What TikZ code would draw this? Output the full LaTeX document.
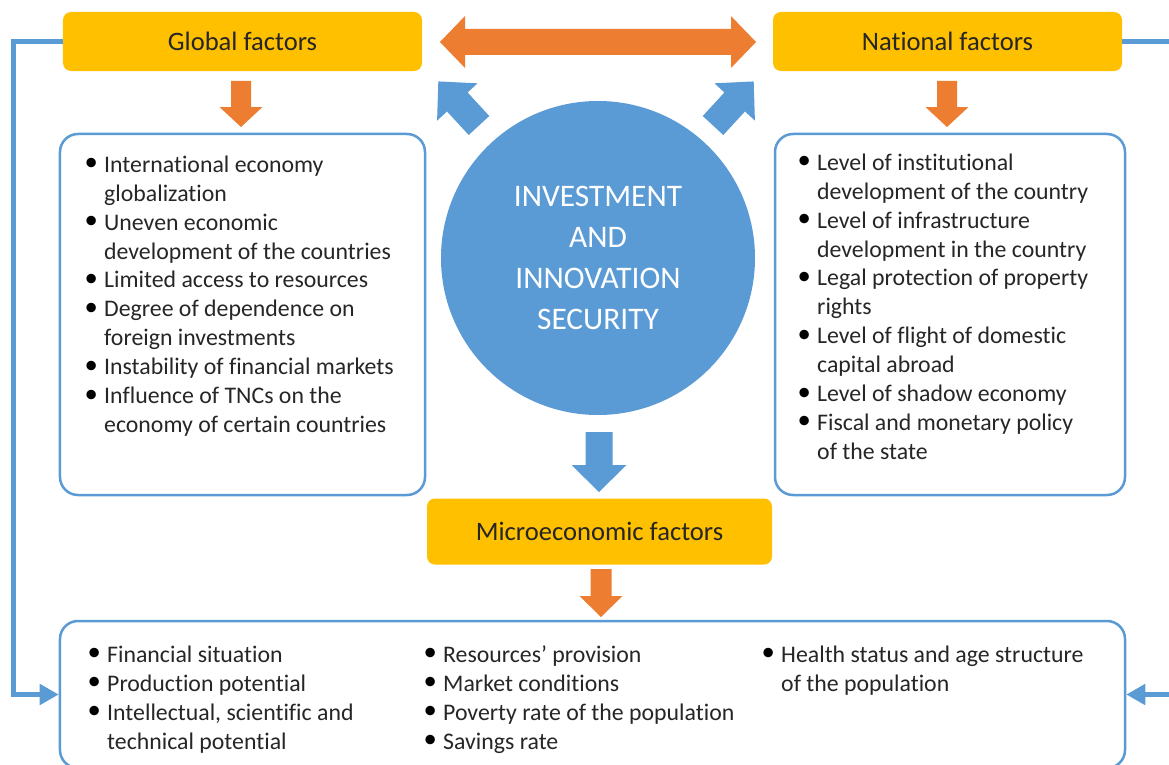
\documentclass[tikz,border=0pt]{standalone}
\usepackage{fontspec}
\setmainfont{Carlito}[Ligatures=NoCommon]
\usetikzlibrary{arrows.meta}
\definecolor{gold}{HTML}{FFC000}
\definecolor{orng}{HTML}{ED7D31}
\definecolor{blu}{HTML}{5B9BD5}
\definecolor{txt}{HTML}{262626}
\newcommand\bul{\makebox[17bp][l]{\hspace{-2.5bp}\color{black}\raisebox{1.5bp}{\scalebox{1.12}{\textbullet}}}}
% color, tail x, tail y, angle, length, shaft half width, head half width, head length
\newcommand\blockarr[8]{%
  \fill[#1, shift={(#2,#3)}, rotate=#4] (0,-#6) -- ({#5-#8},-#6) -- ({#5-#8},-#7) -- (#5,0) -- ({#5-#8},#7) -- ({#5-#8},#6) -- (0,#6) -- cycle;}
\tikzset{
  factor/.style={fill=gold, rounded corners=8bp, inner sep=0pt, text=txt, font=\fontsize{26.7}{31}\selectfont},
  listbox/.style={draw=blu, line width=2.5bp, fill=white, rounded corners=18bp, inner sep=0pt},
  listtext/.style={anchor=north west, inner sep=0pt, text=txt, font=\fontsize{23.9}{29}\selectfont},
  link/.style={draw=blu, line width=5bp},
  linktip/.style={-{Triangle[length=19bp,width=20bp]}},
}
\begin{document}
\begin{tikzpicture}[x=1bp,y=-1bp]
\useasboundingbox (0,0) rectangle (1169,765);
\fill[white] (0,0) rectangle (1169,765);

% factor boxes
\node[factor, minimum width=359bp, minimum height=59bp] (glob) at (242.5,41.5) {Global factors};
\node[factor, minimum width=349bp, minimum height=59bp] (nat) at (947.5,41.5) {National factors};
\node[factor, minimum width=345bp, minimum height=66bp] (micro) at (599.5,531.5) {Microeconomic factors};

% list boxes
\node[listbox, minimum width=365bp, minimum height=361bp] (gl) at (242.5,314.5) {};
\node[listbox, minimum width=350bp, minimum height=361bp] (nl) at (950,314.5) {};
\node[listbox, minimum width=1065bp, minimum height=147bp] (bot) at (592.5,694.5) {};

% central circle
\node[circle, fill=blu, minimum size=314bp, inner sep=0pt, text=white, align=center,
      font=\fontsize{31.5}{41}\selectfont] (sec) at (598,258) {INVESTMENT\\AND\\INNOVATION\\SECURITY};

% block arrows
\fill[orng] (440,42) -- (465,16) -- (465,29) -- (731,29) -- (731,16) -- (756,42)
  -- (731,68) -- (731,55) -- (465,55) -- (465,68) -- cycle;
\blockarr{orng}{241}{81}{-90}{46}{10}{21.5}{20}
\blockarr{orng}{947}{81}{-90}{46}{10}{21.5}{20}
\blockarr{blu}{599}{432}{-90}{60}{13.5}{27.5}{27}
\blockarr{orng}{601}{569}{-90}{48}{10.5}{21.5}{21}
\blockarr{blu}{479}{125.5}{132.7}{60}{14}{27.5}{28}
\blockarr{blu}{713}{125.5}{47.3}{60}{14}{27.5}{28}

% connectors
\draw[link, linktip] (glob.west) -- ++(-49,0) |- (bot.west);
\draw[link, linktip] (nat.east) -- ++(60,0) |- (bot.east);

% texts
\node[listtext] (gltext) at (87,152) {\begin{tabular}{@{}l@{}l@{}}
\bul & International economy\\
 & globalization\\
\bul & Uneven economic\\
 & development of the countries\\
\bul & Limited access to resources\\
\bul & Degree of dependence on\\
 & foreign investments\\
\bul & Instability of financial markets\\
\bul & Influence of TNCs on the\\
 & economy of certain countries
\end{tabular}};
\node[listtext] (nltext) at (800,150) {\begin{tabular}{@{}l@{}l@{}}
\bul & Level of institutional\\
 & development of the country\\
\bul & Level of infrastructure\\
 & development in the country\\
\bul & Legal protection of property\\
 & rights\\
\bul & Level of flight of domestic\\
 & capital abroad\\
\bul & Level of shadow economy\\
\bul & Fiscal and monetary policy\\
 & of the state
\end{tabular}};
\node[listtext] (b1) at (90,642) {\begin{tabular}{@{}l@{}l@{}}
\bul & Financial situation\\
\bul & Production potential\\
\bul & Intellectual, scientific and\\
 & technical potential
\end{tabular}};
\node[listtext] (b2) at (426,642) {\begin{tabular}{@{}l@{}l@{}}
\bul & Resources’ provision\\
\bul & Market conditions\\
\bul & Poverty rate of the population\\
\bul & Savings rate
\end{tabular}};
\node[listtext] (b3) at (764,642) {\begin{tabular}{@{}l@{}l@{}}
\bul & Health status and age structure\\
 & of the population
\end{tabular}};
\end{tikzpicture}
\end{document}
